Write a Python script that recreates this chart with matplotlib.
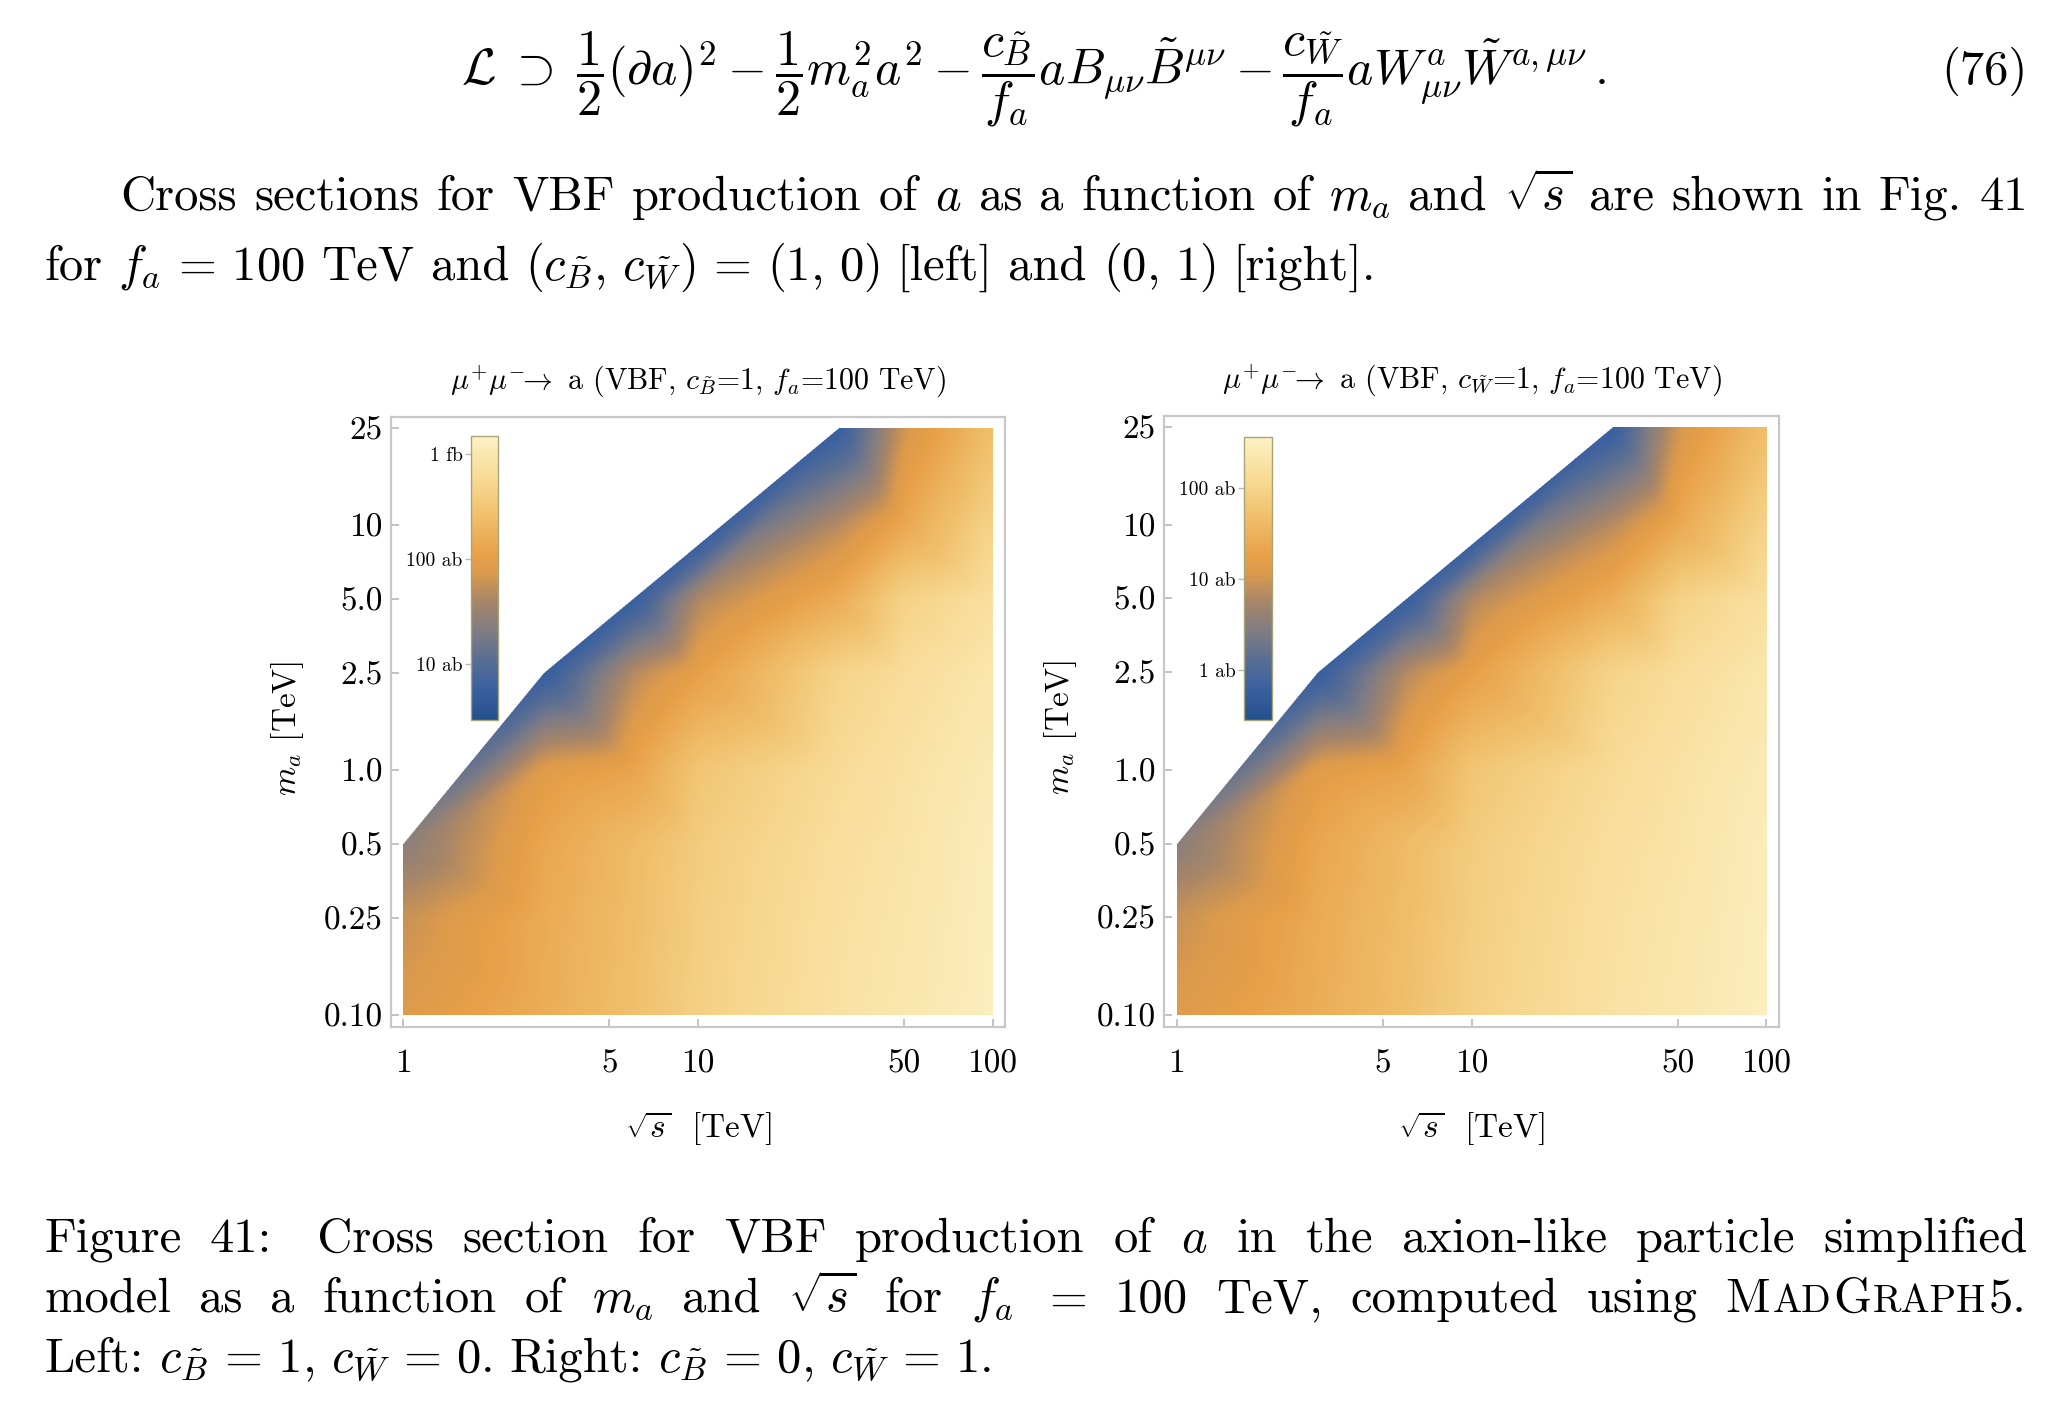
import numpy as np
import matplotlib
matplotlib.use("Agg")
import matplotlib.pyplot as plt
import matplotlib.tri as mtri
from matplotlib.colors import LinearSegmentedColormap
from matplotlib.transforms import IdentityTransform

plt.rcParams['font.family'] = 'cmr10'
plt.rcParams['mathtext.fontset'] = 'cm'
plt.rcParams['axes.unicode_minus'] = False

W, H = 2048, 1404

# grid of the scan
sqrt_s = [1, 3, 6, 10, 30, 50, 100]
m_a = [0.1, 0.25, 0.5, 1.0, 2.5, 5.0, 10.0, 25.0]

# cross sections in ab, one row per sqrt(s); masses above the list are closed
xsec_cB = [
    [79, 58, 24],
    [156, 147, 130, 89, 4.75],
    [258, 242, 228, 122, 47.6, 4.75],
    [425, 399, 375, 311, 108, 44],
    [792, 745, 700, 618, 481, 156, 47.6, 4.75],
    [955, 898, 844, 792, 658, 452, 138, 65],
    [1306, 1265, 1227, 1117, 955, 745, 481, 258],
]
xsec_cW = [
    [12.5, 8.8, 3.2],
    [27.6, 25.6, 22.2, 14.5, 0.50],
    [48.9, 45.5, 42.4, 20.7, 7.1, 0.50],
    [86.7, 80.7, 75.2, 60.6, 17.9, 6.6],
    [177, 165, 154, 133, 100, 27.6, 7.1, 0.50],
    [220, 205, 191, 177, 143, 93, 23.9, 10.1],
    [315, 303, 293, 263, 220, 165, 100, 48.9],
]

x_ticks = [1, 5, 10, 50, 100]
x_ticklabels = ['1', '5', '10', '50', '100']
y_ticklabels = ['0.10', '0.25', '0.5', '1.0', '2.5', '5.0', '10', '25']

range_cB = (2.9, 1480)
range_cW = (0.28, 363)
cbar_ticks_cB = [10, 100, 1000]
cbar_labels_cB = ['10 ab', '100 ab', '1 fb']
cbar_ticks_cW = [1, 10, 100]
cbar_labels_cW = ['1 ab', '10 ab', '100 ab']

cmap = LinearSegmentedColormap.from_list('sunset', [
    (0.00, '#24508c'), (0.12, '#3d62a0'), (0.22, '#5c6f92'),
    (0.31, '#7e7c84'), (0.42, '#a88668'), (0.52, '#dc9a4c'),
    (0.58, '#e8a048'), (0.70, '#efbb66'), (0.84, '#f7d890'), (1.00, '#fdf1c4')])
cmap.set_bad((1, 1, 1, 0))


def triangulate(xsec):
    px, py, pz, cols = [], [], [], []
    for i, s in enumerate(sqrt_s):
        col = []
        for j, v in enumerate(xsec[i]):
            col.append(len(px))
            px.append(np.log10(s))
            py.append(np.log10(m_a[j]))
            pz.append(np.log10(v))
        cols.append(col)
    tris = []
    for i in range(len(cols) - 1):
        a, b = cols[i], cols[i + 1]
        n = min(len(a), len(b))
        for j in range(n - 1):
            tris.append([a[j + 1], b[j], a[j]])
            tris.append([a[j + 1], b[j + 1], b[j]])
        for j in range(n - 1, len(b) - 1):
            tris.append([a[-1], b[j], b[j + 1]])
        for j in range(n - 1, len(a) - 1):
            tris.append([a[j], b[-1], a[j + 1]])
    # fill up to the convex hull of the column tops
    stack = []
    for col in cols:
        c = col[-1]
        while len(stack) >= 2:
            p, q = stack[-2], stack[-1]
            cross = (px[q] - px[p]) * (py[c] - py[p]) - (py[q] - py[p]) * (px[c] - px[p])
            if cross < -1e-9:
                break
            if cross > 1e-9:
                tris.append([p, q, c])
            stack.pop()
        stack.append(c)
    return mtri.Triangulation(px, py, tris), np.array(pz)


def soften(Z, sigma=12):
    # masked-aware gaussian blur, the original density plot is slightly smoothed
    k = np.exp(-0.5 * (np.arange(-3 * sigma, 3 * sigma + 1) / sigma) ** 2)
    k /= k.sum()
    valid = ~np.ma.getmaskarray(Z)
    f = np.where(valid, Z.filled(0), 0.0)
    w = valid.astype(float)
    for axis in (0, 1):
        f = np.apply_along_axis(lambda r: np.convolve(r, k, mode='same'), axis, f)
        w = np.apply_along_axis(lambda r: np.convolve(r, k, mode='same'), axis, w)
    out = f / np.maximum(w, 1e-9)
    return np.ma.array(out, mask=~valid)


fig = plt.figure(figsize=(W / 100, H / 100), dpi=100)


def px_axes(x0, y0, x1, y1):
    return fig.add_axes([x0 / W, 1 - y1 / H, (x1 - x0) / W, (y1 - y0) / H])


def density_panel(frame, cbox, xsec, vrange, cticks, clabels, title):
    ax = px_axes(*frame)
    tri, z = triangulate(xsec)
    gx = np.linspace(0, 2, 1200)
    gy = np.linspace(-1, np.log10(25), 1200)
    GX, GY = np.meshgrid(gx, gy)
    Z = soften(mtri.LinearTriInterpolator(tri, z)(GX, GY))
    im = ax.imshow(Z, extent=[0, 2, -1, np.log10(25)], origin='lower', cmap=cmap,
                   vmin=np.log10(vrange[0]), vmax=np.log10(vrange[1]), aspect='auto')
    ax.set_xlim(-0.0424, 2.0424)
    ax.set_ylim(-1.049, np.log10(25) + 0.045)
    ax.set_xticks(np.log10(x_ticks))
    ax.set_xticklabels(x_ticklabels)
    ax.set_yticks(np.log10(m_a))
    ax.set_yticklabels(y_ticklabels)
    ax.tick_params(direction='in', length=6, width=1.2, color='#b8b8b8', labelsize=24)
    ax.tick_params(axis='x', pad=16)
    ax.tick_params(axis='y', pad=6)
    for sp in ax.spines.values():
        sp.set_color('#c8c8c8')
        sp.set_linewidth(1.6)
    ax.text(0.5, 1.058, title, transform=ax.transAxes, ha='center', va='center', fontsize=21.5)
    ax.text(0.5, -0.166, r'$\sqrt{s}$  [TeV]', transform=ax.transAxes, ha='center',
            va='center', fontsize=24)
    ax.text(-0.168, 0.49, r'$m_a$ [TeV]', transform=ax.transAxes, ha='center',
            va='center', rotation=90, fontsize=24)

    cax = px_axes(*cbox)
    cb = fig.colorbar(im, cax=cax, ticks=np.log10(cticks))
    cb.set_ticklabels(clabels)
    cb.outline.set_edgecolor('#a6a67a')
    cb.outline.set_linewidth(1.0)
    cax.yaxis.set_ticks_position('left')
    cax.tick_params(axis='y', direction='out', length=4, width=1, color='#b8b8b8',
                    labelsize=14, pad=2)
    return ax


density_panel((391, 417, 1005, 1027), (471, 436, 498, 720), xsec_cB, range_cB,
              cbar_ticks_cB, cbar_labels_cB,
              r'$\mu^{+}\mu^{-}\!\!\rightarrow$ a (VBF, $c_{\tilde{B}}$=1, $f_a$=100 TeV)')
density_panel((1164, 416, 1779, 1027), (1244, 437, 1272, 720), xsec_cW, range_cW,
              cbar_ticks_cW, cbar_labels_cW,
              r'$\mu^{+}\mu^{-}\!\!\rightarrow$ a (VBF, $c_{\tilde{W}}$=1, $f_a$=100 TeV)')


def text_line(words, y_top, x_left, x_right=None, size=28):
    r = fig.canvas.get_renderer()
    y = H - y_top
    groups = []
    for w in words:
        pieces = w if isinstance(w, list) else [(w, size)]
        arts = [fig.text(0, y, s, fontsize=fs, va='baseline', transform=IdentityTransform())
                for s, fs in pieces]
        ws = [a.get_window_extent(r).width + (2 if len(pieces) > 1 else 0) for a in arts]
        groups.append((arts, ws))
    total = sum(sum(ws) for _, ws in groups)
    if x_right is None:
        gap = size * 100 / 72 * 0.333
    else:
        gap = (x_right - x_left - total) / (len(groups) - 1)
    x = x_left
    for arts, ws in groups:
        for a, w in zip(arts, ws):
            a.set_x(x)
            x += w
        x += gap


eq = (r'$\mathcal{L}\;\supset\;\dfrac{1}{2}(\partial a)^2 - \dfrac{1}{2}m_a^2 a^2'
      r' - \dfrac{c_{\tilde{B}}}{f_a}a B_{\mu\nu}\tilde{B}^{\mu\nu}'
      r' - \dfrac{c_{\tilde{W}}}{f_a}a W^a_{\mu\nu}\tilde{W}^{a,\mu\nu}\,.$')
fig.text(1034, H - 84, eq, fontsize=36, ha='center', va='baseline', transform=IdentityTransform())
fig.text(2028, H - 84, '(76)', fontsize=35, ha='right', va='baseline', transform=IdentityTransform())

ps = 35
text_line(['Cross', 'sections', 'for', 'VBF', 'production', 'of', '$a$', 'as', 'a', 'function',
           'of', '$m_a$', 'and', r'$\sqrt{s}$', 'are', 'shown', 'in', 'Fig.', '41'],
          210, 120, 2028, size=ps)
text_line(['for', r'$f_a\,=\,100$', 'TeV', 'and',
           r'$(c_{\tilde{B}},\,c_{\tilde{W}})\,=\,(1,\,0)$', '[left]',
           'and', r'$(0,\,1)$', '[right].'], 280, 44, size=ps)

cs = 35
sc = 28
text_line(['Figure', '41:', ' Cross', 'section', 'for', 'VBF', 'production', 'of', '$a$', 'in',
           'the', 'axion-like', 'particle', 'simplified'], 1252, 44, 2028, size=cs)
text_line(['model', 'as', 'a', 'function', 'of', '$m_a$', 'and', r'$\sqrt{s}$', 'for', '$f_a$',
           '$=$', '100', 'TeV,', 'computed', 'using',
           [('M', cs), ('AD', sc), ('G', cs), ('RAPH', sc), ('5.', cs)]],
          1312, 44, 2028, size=cs)
text_line([r'Left:', r'$c_{\tilde{B}}\,=\,1,\,c_{\tilde{W}}\,=\,0$.', 'Right:',
           r'$c_{\tilde{B}}\,=\,0,\,c_{\tilde{W}}\,=\,1$.'], 1372, 44, size=cs)

fig.savefig('out.png', dpi=100)
